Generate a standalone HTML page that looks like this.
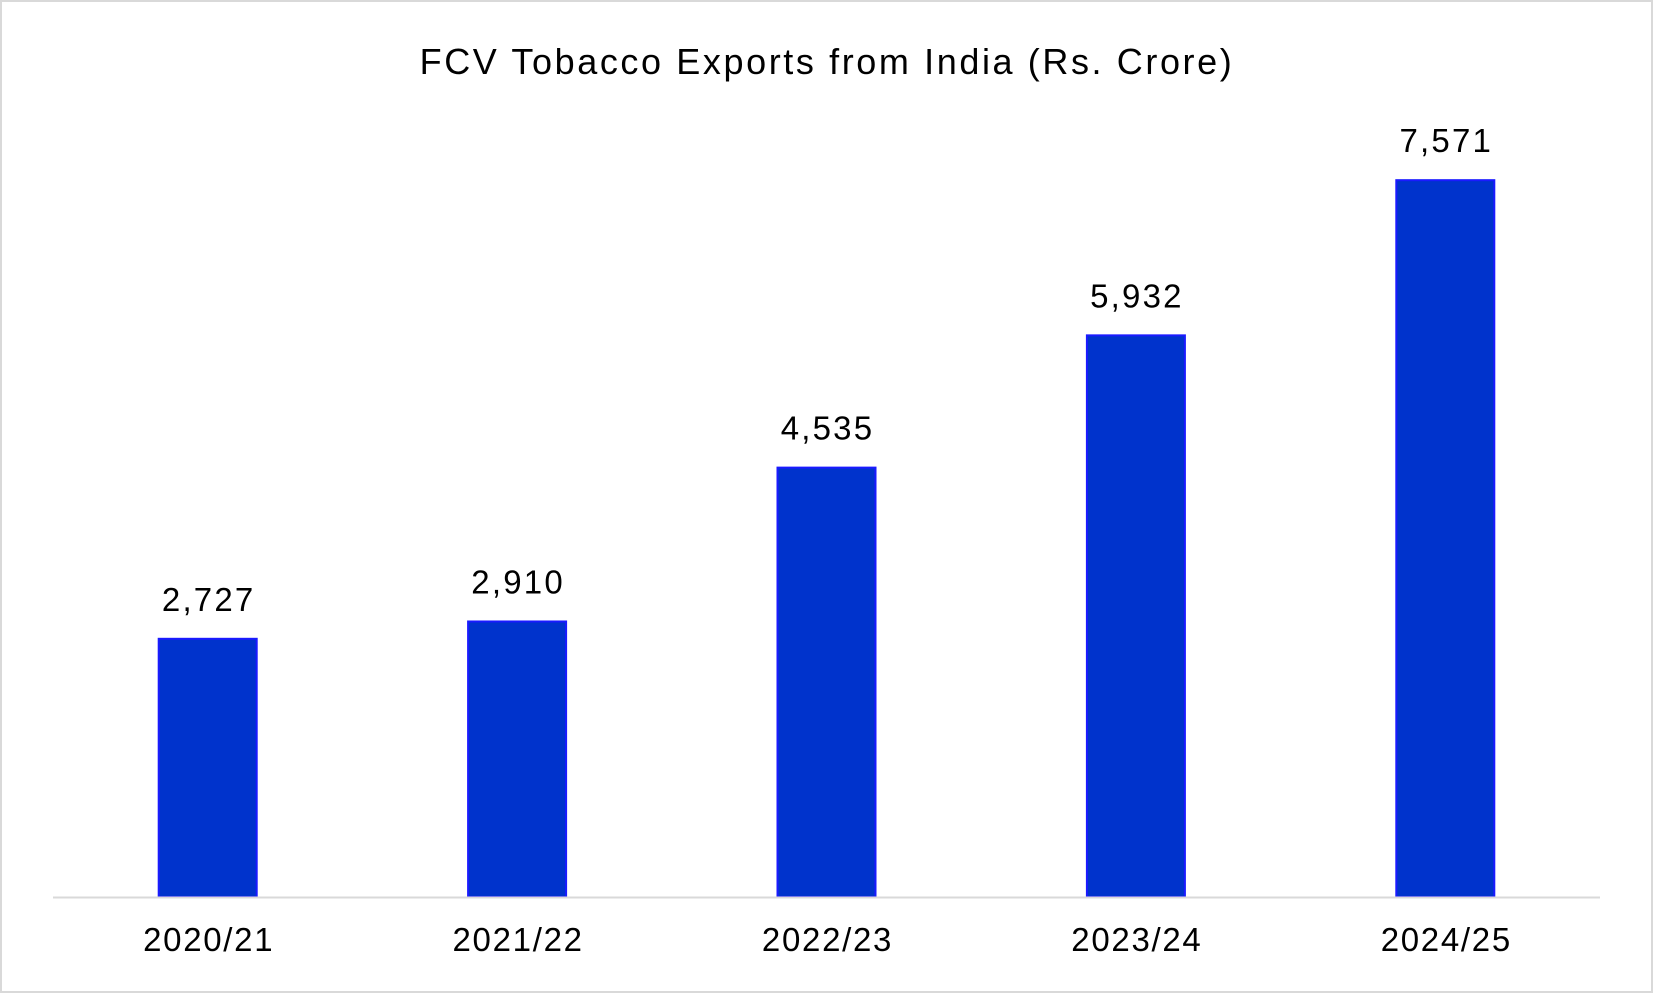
<!DOCTYPE html>
<html><head><meta charset="utf-8">
<style>
html,body{margin:0;padding:0;background:#fff;}
svg{display:block;font-family:"Liberation Sans",Arial,sans-serif;}
</style></head>
<body>
<svg id="chart" width="1653" height="993" viewBox="0 0 1653 993">
<rect x="1" y="1" width="1651" height="991" fill="#fff" stroke="#d9d9d9" stroke-width="2"/>
<text x="827" y="74" text-anchor="middle" font-size="36" letter-spacing="2.6" fill="#000">FCV Tobacco Exports from India (Rs. Crore)</text>
<g id="bars"></g>
<line x1="53" y1="897.5" x2="1600" y2="897.5" stroke="#d9d9d9" stroke-width="2"/>
</svg>
<script>
const categories = ["2020/21","2021/22","2022/23","2023/24","2024/25"];
const values = [2727, 2910, 4535, 5932, 7571];
const valueLabels = ["2,727","2,910","4,535","5,932","7,571"];

const NS = "http://www.w3.org/2000/svg";
const baseY = 897, pxPerUnit = 0.09468;
const x0 = 53, x1 = 1600, barW = 98;
const band = (x1 - x0) / categories.length;
function xCenter(i){ return x0 + band * (i + 0.5); }
function yPos(v){ return baseY - v * pxPerUnit; }
const g = document.getElementById("bars");
categories.forEach((c, i) => {
  const cx = xCenter(i), top = yPos(values[i]);
  const r = document.createElementNS(NS, "rect");
  r.setAttribute("x", cx - barW/2);
  r.setAttribute("y", top);
  r.setAttribute("width", barW);
  r.setAttribute("height", baseY - top);
  r.setAttribute("fill", "#0033cc");
  r.setAttribute("stroke", "#1a1aff");
  r.setAttribute("stroke-width", "2");
  
  
  g.appendChild(r);
  const t = document.createElementNS(NS, "text");
  t.setAttribute("x", cx + 1);
  t.setAttribute("y", top - 28);
  t.setAttribute("text-anchor", "middle");
  t.setAttribute("font-size", "33");
  t.setAttribute("letter-spacing", "2.2");
  t.textContent = valueLabels[i];
  
  
  g.appendChild(t);
  const l = document.createElementNS(NS, "text");
  l.setAttribute("x", cx + 1);
  l.setAttribute("y", 951);
  l.setAttribute("text-anchor", "middle");
  l.setAttribute("font-size", "33");
  l.setAttribute("letter-spacing", "1.7");
  l.textContent = c;
  
  
  g.appendChild(l);
});
</script>
</body></html>
